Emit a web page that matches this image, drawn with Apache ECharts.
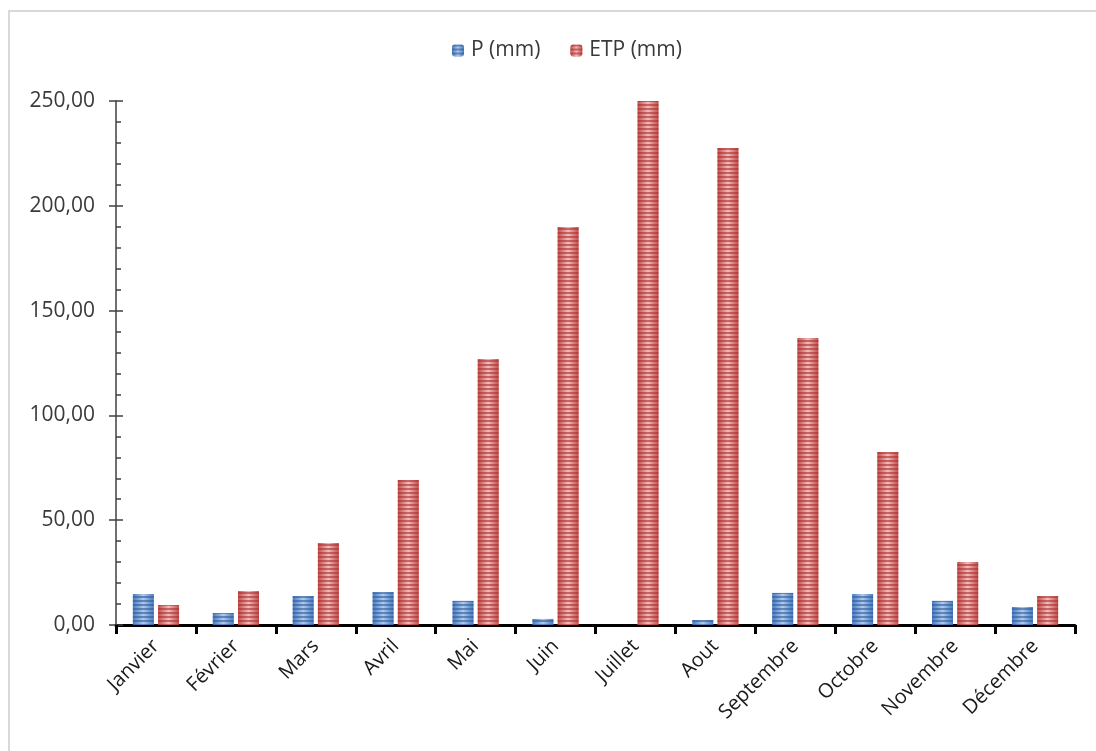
<!DOCTYPE html>
<html>
<head>
<meta charset="utf-8">
<script src="https://cdn.jsdelivr.net/npm/echarts@6/dist/echarts.min.js"></script>
<style>
  html, body { margin: 0; padding: 0; background: #ffffff; }
  #chart { width: 1096px; height: 751px; }
</style>
</head>
<body>
<div id="chart"></div>
<script>
// Monthly precipitation and potential evapotranspiration (mm)
const months = ['Janvier', 'Février', 'Mars', 'Avril', 'Mai', 'Juin',
                'Juillet', 'Aout', 'Septembre', 'Octobre', 'Novembre', 'Décembre'];
const pValues   = [14.8, 5.7, 13.8, 15.7, 11.5, 2.9, 0.0, 2.4, 15.3, 14.8, 11.5, 8.6];
const etpValues = [9.5, 16.2, 39.1, 69.2, 126.9, 189.9, 250.0, 227.6, 136.9, 82.5, 30.1, 13.8];
const seriesNames = ['P (mm)', 'ETP (mm)'];
const yMin = 0, yMax = 250, yStep = 50;

const FONT = '"Open Sans", "Noto Sans", sans-serif';
const TEXT = '#3a3a3a';

function frNumber(v) {
  return v.toFixed(2).replace('.', ',');
}

// Horizontal shading that makes each bar look slightly rounded
function shade(edge, mid) {
  return {
    type: 'linear', x: 0, y: 0, x2: 1, y2: 0,
    colorStops: [
      { offset: 0, color: edge },
      { offset: 0.5, color: mid },
      { offset: 1, color: edge }
    ]
  };
}

// Horizontal stripe overlay
function stripes(color) {
  return {
    symbol: 'rect',
    symbolSize: 1,
    dashArrayX: [1, 0],
    dashArrayY: [2, 2],
    rotation: 0,
    color: color
  };
}

const chart = echarts.init(document.getElementById('chart'), null, { renderer: 'canvas' });

const yAxisBase = {
  type: 'value',
  min: yMin,
  max: yMax,
  interval: yStep,
  splitLine: { show: false }
};

chart.setOption({
  backgroundColor: '#ffffff',
  animation: false,
  graphic: [{
    type: 'rect',
    shape: { x: 9, y: 11, width: 1100, height: 760 },
    style: { fill: 'none', stroke: '#d9d9d9', lineWidth: 2 },
    silent: true,
    z: -10
  }],
  legend: {
    top: 35,
    left: 447,
    itemWidth: 12,
    itemHeight: 12,
    itemGap: 30,
    textStyle: { fontFamily: FONT, fontSize: 21, color: TEXT, padding: [0, 0, 0, 2] },
    data: seriesNames
  },
  grid: { left: 116, right: 21, top: 101, bottom: 126, containLabel: false },
  xAxis: {
    type: 'category',
    data: months,
    axisLine: { show: true, lineStyle: { color: '#000000', width: 3 } },
    axisTick: { show: true, length: 9, lineStyle: { color: '#000000', width: 3 } },
    axisLabel: {
      rotate: 45,
      margin: 18,
      fontFamily: FONT,
      fontSize: 20,
      color: '#1a1a1a'
    }
  },
  yAxis: [
    Object.assign({}, yAxisBase, {
      axisLine: { show: true, lineStyle: { color: '#404040', width: 1.5 } },
      axisTick: { show: true, inside: true, length: 7, lineStyle: { color: '#404040', width: 1.5 } },
      minorTick: { show: true, splitNumber: 5, length: 5, lineStyle: { color: '#404040', width: 1.5 } },
      axisLabel: {
        margin: 21,
        fontFamily: FONT,
        fontSize: 21,
        color: TEXT,
        formatter: frNumber
      }
    }),
    Object.assign({}, yAxisBase, {
      position: 'left',
      axisLine: { show: false },
      axisTick: { show: true, inside: false, length: 7, lineStyle: { color: '#404040', width: 1.5 } },
      axisLabel: { show: false }
    })
  ],
  series: [
    {
      name: seriesNames[0],
      type: 'bar',
      data: pValues,
      barWidth: 21,
      barGap: '20%',
      itemStyle: {
        color: shade('#4a7cc0', '#b0cbeb'),
        decal: stripes('rgba(45, 90, 160, 0.6)')
      }
    },
    {
      name: seriesNames[1],
      type: 'bar',
      data: etpValues,
      barWidth: 21,
      barGap: '20%',
      itemStyle: {
        color: shade('#c24f4c', '#f0bcbb'),
        decal: stripes('rgba(175, 45, 45, 0.6)')
      }
    }
  ]
});
</script>
</body>
</html>
